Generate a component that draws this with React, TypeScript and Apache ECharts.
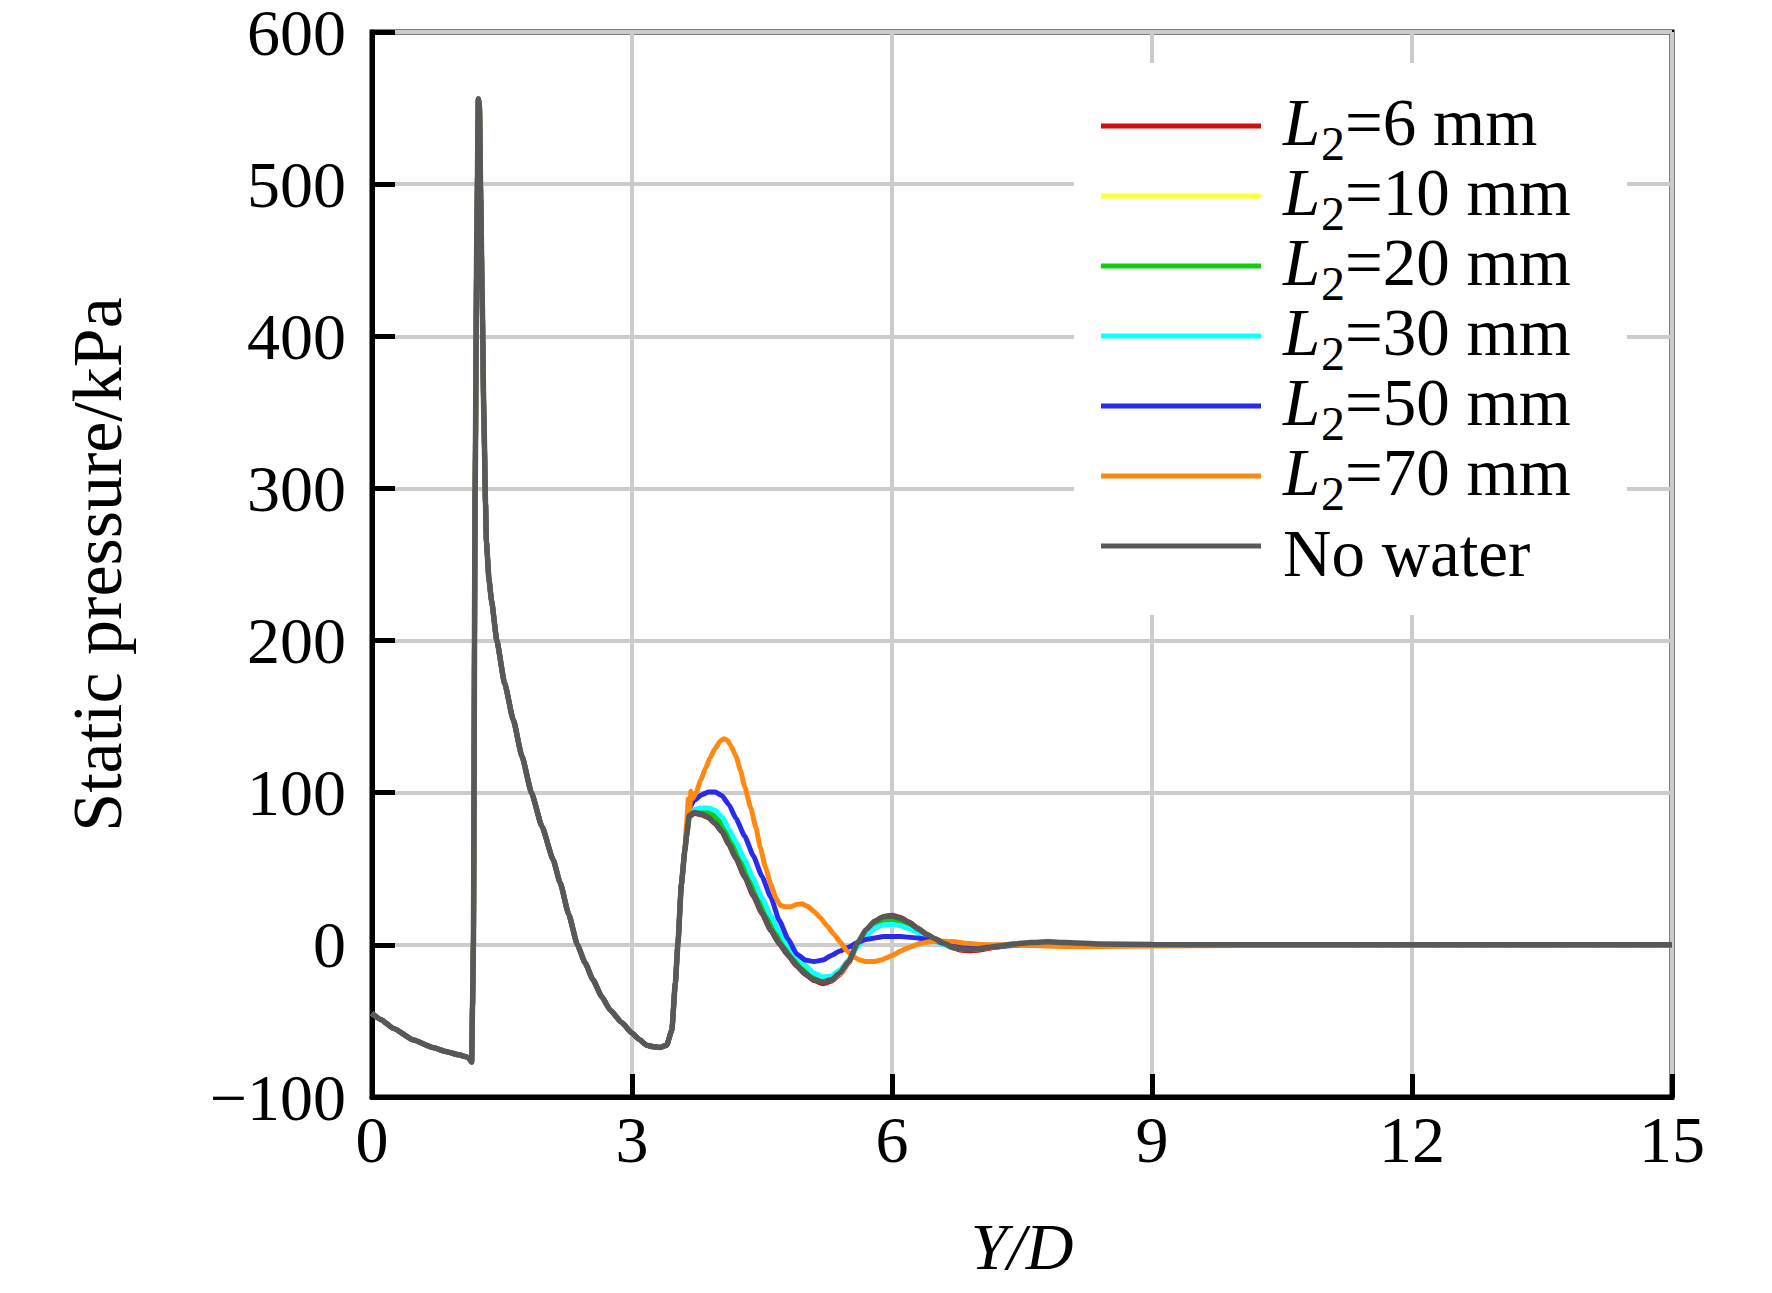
import React, { useEffect, useRef } from "react";
import * as echarts from "echarts";

const FONT = "'Liberation Serif', 'Times New Roman', serif";

// Shared part of all curves (Y/D, kPa)
const commonX = [0, 0.1, 0.25, 0.48, 0.7, 0.86, 1.0, 1.11, 1.15, 1.16, 1.17, 1.19, 1.21, 1.227, 1.24, 1.255, 1.27, 1.29, 1.31, 1.32, 1.35, 1.38, 1.44, 1.53, 1.63, 1.73, 1.84, 1.96, 2.09, 2.17, 2.27, 2.37, 2.46, 2.55, 2.65, 2.75, 2.88, 3.0, 3.08, 3.17, 3.25, 3.32, 3.4, 3.46, 3.5, 3.53, 3.57, 3.61];
const commonY = [-45, -49, -55, -62.6, -67.5, -70.2, -72.3, -74, -77, -40, 0, 300, 470, 556, 551, 490, 430, 350, 290, 265, 240, 226, 200, 172, 148, 124, 100, 78, 56, 41, 20, 0, -12, -23, -34, -43, -51, -58, -62, -66, -67, -67.4, -66, -56, -25, 1, 40, 62];

// Tails after the second rise
const tailX = [3.63, 3.66, 3.72, 3.8, 3.88, 3.96, 4.04, 4.12, 4.2, 4.3, 4.4, 4.5, 4.6, 4.7, 4.8, 4.9, 5.0, 5.1, 5.2, 5.3, 5.4, 5.5, 5.6, 5.7, 5.8, 5.9, 6.0, 6.1, 6.2, 6.3, 6.4, 6.5, 6.6, 6.7, 6.8, 6.9, 7.0, 7.2, 7.4, 7.6, 7.8, 8.0, 8.4, 9, 10, 12, 15];
const tail6 = [71, 84, 86.5, 85.5, 83.5, 79.5, 74, 65.5, 56.5, 44.5, 32, 20.5, 9.5, 0.5, -7, -14, -19.5, -23.5, -25.5, -24, -19.5, -12, 0, 9.5, 15.5, 18.5, 19.5, 18, 15, 11, 7, 3.5, 0.5, -2, -3.5, -4, -3.5, -1.5, 0, 1, 1.5, 1, 0.3, 0, 0, 0, 0];
const tail10 = [72, 85.5, 87.5, 87, 85.5, 82, 76.5, 68.5, 60, 48, 35.5, 23.5, 12.5, 3, -5, -12, -18, -22, -24, -23, -19, -11.5, 0, 9, 14.5, 17.5, 18, 17, 14, 10.5, 7, 4, 1, -1.5, -2.8, -3, -2.5, -1, 0, 1, 1.5, 1, 0.3, 0, 0, 0, 0];
const tail20 = [72.5, 86, 88, 88.5, 87.5, 84.5, 79, 71, 62.5, 51, 38.5, 26.5, 15.5, 5.5, -3, -10.5, -16.5, -21, -23, -22, -18, -11, -0.5, 8, 13.5, 16, 16.5, 15.5, 13, 9.5, 6, 3, 0.5, -1.5, -2.5, -2.5, -2, -1, 0, 0.8, 1, 0.8, 0.2, 0, 0, 0, 0];
const tail30 = [73, 87, 89, 90, 90, 88.5, 84, 76, 67.5, 56, 43.5, 31, 19.5, 9, 0, -7.5, -13.5, -18.5, -21, -20.5, -16.5, -10, -1.5, 6, 11, 13, 13.5, 12.5, 10.5, 8, 5, 2.5, 0, -1.5, -2, -2, -2, -1, -0.5, 0, 0, 0, 0, 0, 0, 0, 0];
const tail50 = [75, 90, 95, 98.5, 100.5, 100.5, 98, 92, 83, 71.5, 58.5, 45, 31.5, 16, 4, -6, -10, -11, -10, -7, -4, -1.5, 1.5, 3.5, 4.5, 5.5, 5.5, 5.5, 5, 4.5, 3.5, 2.5, 1, -0.5, -1.5, -1.5, -1.5, -1, -0.5, 0, 0, 0, 0, 0, 0, 0, 0];
const tailNoWater = [72, 85, 87, 86, 84, 80, 74.5, 66, 57, 45, 33, 21, 10, 1, -6.5, -13.5, -19, -23, -24.5, -23, -18.5, -11, 1, 10, 15.5, 18.5, 19, 17.5, 14.5, 10.5, 7, 4, 1, -1.5, -2.8, -3, -2.5, -1, 0.5, 1.5, 2, 1.5, 0.5, 0.2, 0, 0, 0];
const tail70X = [3.63, 3.65, 3.665, 3.68, 3.7, 3.74, 3.79, 3.85, 3.9, 3.96, 4.02, 4.06, 4.1, 4.14, 4.2, 4.25, 4.3, 4.37, 4.43, 4.48, 4.54, 4.6, 4.66, 4.71, 4.77, 4.83, 4.9, 4.96, 5.02, 5.1, 5.17, 5.25, 5.33, 5.4, 5.48, 5.56, 5.63, 5.7, 5.79, 5.87, 5.94, 6.02, 6.1, 6.2, 6.33, 6.45, 6.56, 6.7, 6.87, 7.05, 7.25, 7.6, 8.0, 8.4, 9, 10, 12, 15];
const tail70Y = [80, 96, 88, 101, 96, 100, 108, 116, 123, 129, 134, 135.5, 134.5, 131, 124, 115, 104, 90, 77, 64, 51, 40, 31, 26, 25, 25, 26.5, 27, 25.5, 22, 18, 12.5, 7, 2, -4, -8, -10, -11, -11, -10, -8.5, -6.5, -4, -1.5, 1, 2.2, 2.6, 2.2, 1, 0.3, 0, -0.5, -1, -1, -0.7, -0.5, -0.2, 0];

const seriesNames = ["L2=6 mm", "L2=10 mm", "L2=20 mm", "L2=30 mm", "L2=50 mm", "L2=70 mm", "No water"];
const seriesColors = ["#cc1111", "#ffff33", "#11cc11", "#11ffff", "#2a2aee", "#ff8811", "#585858"];
const seriesTailX = [tailX, tailX, tailX, tailX, tailX, tail70X, tailX];
const seriesTailY = [tail6, tail10, tail20, tail30, tail50, tail70Y, tailNoWater];

const xTicks = { min: 0, max: 15, interval: 3 };
const yTicks = { min: -100, max: 600, interval: 100 };

function buildData(i: number): number[][] {
  const pts: number[][] = commonX.map((x, k) => [x, commonY[k]]);
  const tx = seriesTailX[i];
  const ty = seriesTailY[i];
  tx.forEach((x, k) => pts.push([x, ty[k]]));
  return pts;
}

// Legend layout (pixels)
const LEG = { boxX: 1074, boxY: 63, boxW: 553, boxH: 552, lineX0: 1101, lineX1: 1261, textX: 1283, row0: 126, rowGap: 70 };

function buildLegend() {
  const children: any[] = [
    { type: "rect", shape: { x: LEG.boxX, y: LEG.boxY, width: LEG.boxW, height: LEG.boxH }, style: { fill: "#fff" }, z: 50 },
  ];
  seriesNames.forEach((name, i) => {
    const cy = LEG.row0 + LEG.rowGap * i;
    children.push({
      type: "line",
      shape: { x1: LEG.lineX0, y1: cy, x2: LEG.lineX1, y2: cy },
      style: { stroke: seriesColors[i], lineWidth: 5 },
      z: 51,
    });
    if (name.startsWith("L2")) {
      children.push({
        type: "text", z: 51,
        style: { text: "L", x: LEG.textX, y: cy - 4, fontFamily: FONT, fontSize: 67, fontStyle: "italic", fill: "#000", verticalAlign: "middle", align: "left" },
      });
      children.push({
        type: "text", z: 51,
        style: { text: "2", x: LEG.textX + 38, y: cy + 17, fontFamily: FONT, fontSize: 48, fill: "#000", verticalAlign: "middle", align: "left" },
      });
      children.push({
        type: "text", z: 51,
        style: { text: name.slice(2), x: LEG.textX + 62, y: cy - 4, fontFamily: FONT, fontSize: 67, fill: "#000", verticalAlign: "middle", align: "left" },
      });
    } else {
      children.push({
        type: "text", z: 51,
        style: { text: name, x: LEG.textX, y: cy + 7, fontFamily: FONT, fontSize: 67, fill: "#000", verticalAlign: "middle", align: "left" },
      });
    }
  });
  return children;
}

export default function App() {
  const ref = useRef<HTMLDivElement>(null);
  useEffect(() => {
    if (!ref.current) return;
    const chart = echarts.init(ref.current, undefined, { renderer: "svg" });
    const axisCommon = {
      axisLine: { show: true, onZero: false, lineStyle: { color: "#000", width: 5 } },
      axisTick: { show: true, inside: true, length: 23, lineStyle: { color: "#000", width: 5 } },
      splitLine: { show: true, lineStyle: { color: "#cccccc", width: 4 } },
      nameTextStyle: { fontFamily: FONT, fontSize: 70, color: "#000" },
    };
    chart.setOption({
      animation: false,
      backgroundColor: "#fff",
      grid: {
        left: 372, top: 32, width: 1300, height: 1065,
        show: true, borderColor: "#000", borderWidth: 5,
        containLabel: false, outerBoundsMode: "none",
      },
      xAxis: {
        type: "value",
        ...xTicks,
        ...axisCommon,
        name: "Y/D",
        nameLocation: "middle",
        nameGap: 116,
        nameTextStyle: { ...axisCommon.nameTextStyle, fontSize: 66, fontStyle: "italic" },
        axisLabel: { fontFamily: FONT, fontSize: 66, color: "#000", margin: 14, lineHeight: 56 },
      },
      yAxis: {
        type: "value",
        ...yTicks,
        ...axisCommon,
        name: "Static pressure/kPa",
        nameLocation: "middle",
        nameGap: 240,
        axisLabel: {
          fontFamily: FONT, fontSize: 66, color: "#000", margin: 26, lineHeight: 56,
          formatter: (v: number) => (v < 0 ? "\u2212" + Math.abs(v) : String(v)),
        },
      },
      graphic: { elements: buildLegend() },
      series: seriesNames.map((name, i) => ({
        name,
        type: "line",
        data: buildData(i),
        showSymbol: false,
        symbol: "none",
        smooth: 0.15,
        smoothMonotone: "x",
        color: seriesColors[i],
        lineStyle: { color: seriesColors[i], width: i === 6 ? 5.5 : 5 },
        z: 2 + i,
      })),
    });
    return () => chart.dispose();
  }, []);
  return (
    <div
      ref={ref}
      style={{ position: "fixed", left: 0, top: 0, width: 1772, height: 1293, background: "#fff" }}
    />
  );
}
